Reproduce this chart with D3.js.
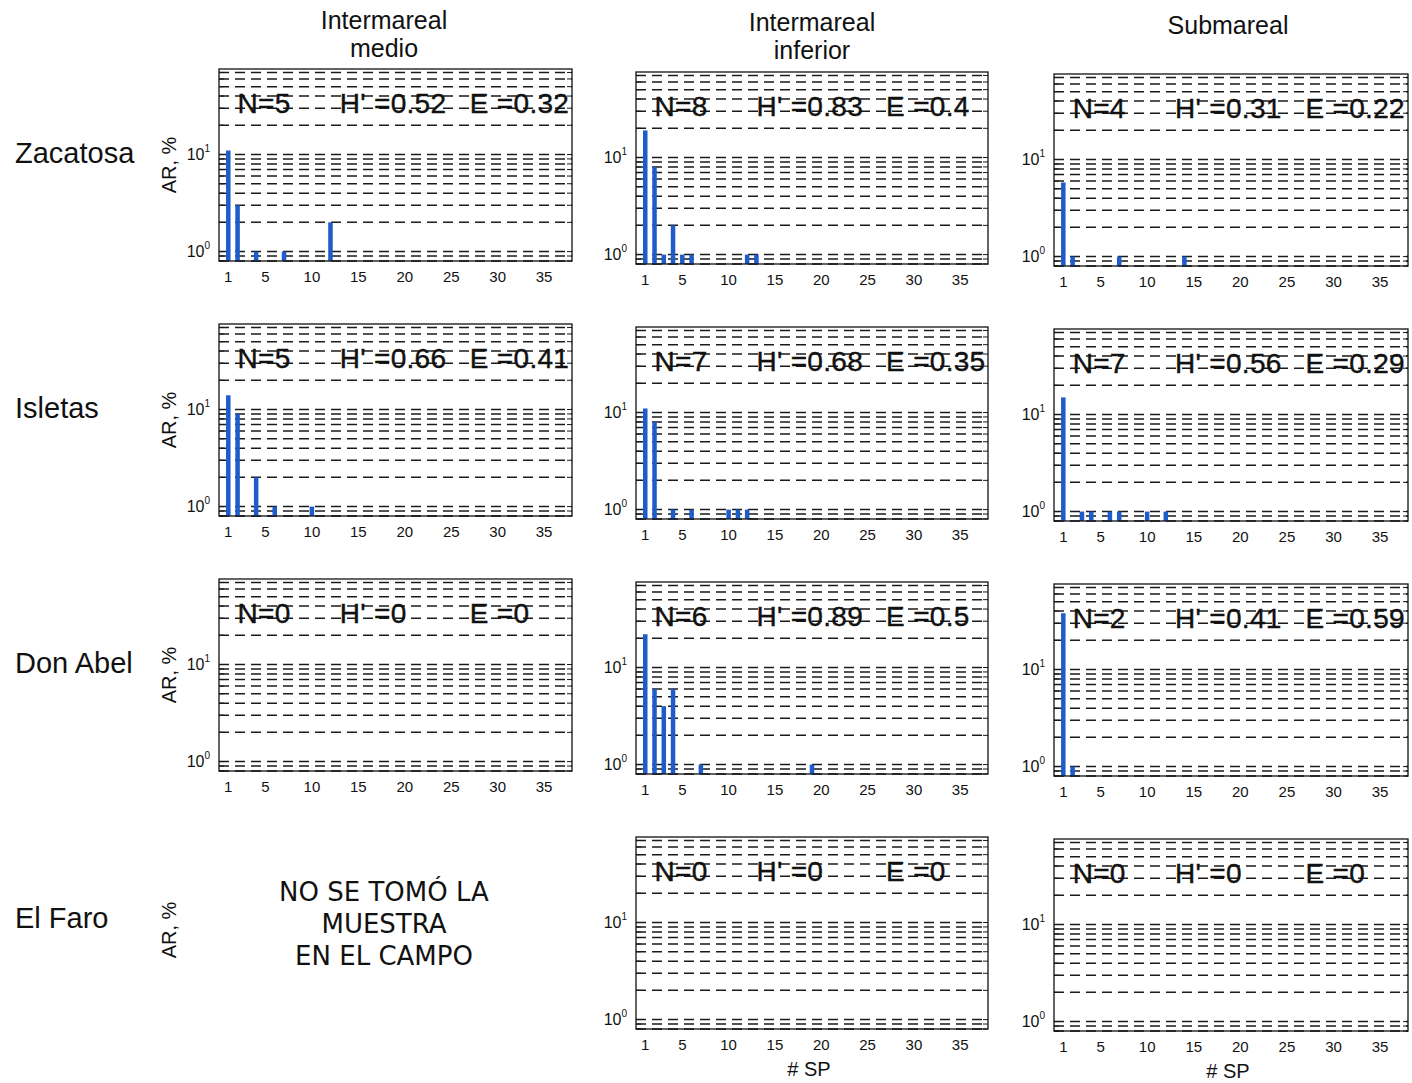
<!DOCTYPE html>
<html>
<head>
<meta charset="utf-8">
<script src="https://cdn.jsdelivr.net/npm/d3@7"></script>
<style>
  body { margin: 0; background: #fff; }
  text { font-family: "Liberation Sans", Arial, Helvetica, sans-serif; fill: #111; }
</style>
</head>
<body>
<svg id="chart" width="1412" height="1083"></svg>
<script>
// Column headings (zonation levels) and row headings (sites)
const zones = [["Intermareal", "medio"], ["Intermareal", "inferior"], ["Submareal"]];
const sites = ["Zacatosa", "Isletas", "Don Abel", "El Faro"];

// Axis ticks
const xTicks = [1, 5, 10, 15, 20, 25, 30, 35];
const yTicks = [1, 10];
const yGrid = [0.8, 0.9, 1, 2, 3, 4, 5, 6, 7, 8, 9, 10, 20, 30, 40, 50, 60, 70];

// Relative abundance per species: [species #, AR %]
const zacatosaMedio     = [[1, 11], [2, 3], [4, 1], [7, 1], [12, 2]];
const zacatosaInferior  = [[1, 19], [2, 8], [3, 1], [4, 2], [5, 1], [6, 1], [12, 1], [13, 1]];
const zacatosaSubmareal = [[1, 5.8], [2, 1], [7, 1], [14, 1]];
const isletasMedio      = [[1, 14], [2, 9], [4, 2], [6, 1], [10, 1]];
const isletasInferior   = [[1, 11], [2, 8], [4, 1], [6, 1], [10, 1], [11, 1], [12, 1]];
const isletasSubmareal  = [[1, 15], [3, 1], [4, 1], [6, 1], [7, 1], [10, 1], [12, 1]];
const donAbelMedio      = [];
const donAbelInferior   = [[1, 22], [2, 6], [3, 4], [4, 6], [7, 1], [19, 1]];
const donAbelSubmareal  = [[1, 38], [2, 1]];
const elFaroInferior    = [];
const elFaroSubmareal   = [];

// Diversity indices per panel (row = site, column = zone); null = not sampled
const statN = [[5, 8, 4], [5, 7, 7], [0, 6, 2], [null, 0, 0]];
const statH = [["0.52", "0.83", "0.31"], ["0.66", "0.68", "0.56"], ["0", "0.89", "0.41"], [null, "0", "0"]];
const statE = [["0.32", "0.4", "0.22"], ["0.41", "0.35", "0.29"], ["0", "0.5", "0.59"], [null, "0", "0"]];

const panelData = [
  [zacatosaMedio, zacatosaInferior, zacatosaSubmareal],
  [isletasMedio, isletasInferior, isletasSubmareal],
  [donAbelMedio, donAbelInferior, donAbelSubmareal],
  [null, elFaroInferior, elFaroSubmareal]
];

// Layout
const colLeft  = [219, 636, 1054];
const colRight = [572, 988, 1408];
const colTopShift = [0, 3, 5];
const rowTop = [69, 324, 579, 834];
const panelH = 192;
const barColor = "#1e5ccc";

const svg = d3.select("#chart");

// Column titles
const titleX = [384, 812, 1228];
zones.forEach((lines, c) => {
  lines.forEach((ln, i) => {
    svg.append("text")
      .attr("text-anchor", "middle")
      .attr("font-size", 25)
      .attr("x", titleX[c])
      .attr("y", (lines.length > 1 ? 29 + colTopShift[c] / 1.5 : 34) + i * 28)
      .text(ln);
  });
});

// Row labels and y-axis titles
sites.forEach((s, r) => {
  const cy = rowTop[r] + panelH / 2 - 12;
  svg.append("text")
    .attr("x", 15).attr("y", cy).attr("dy", "0.35em")
    .attr("font-size", 29)
    .text(s);
  svg.append("text")
    .attr("transform", `translate(176,${rowTop[r] + panelH / 2}) rotate(-90)`)
    .attr("text-anchor", "middle")
    .attr("font-size", 20)
    .text("AR, %");
});

// Panels
panelData.forEach((row, r) => {
  row.forEach((data, c) => {
    if (data === null) return;
    const top = rowTop[r] + colTopShift[c];
    const bottom = top + panelH;
    const x = d3.scaleLinear().domain([0, 38]).range([colLeft[c], colRight[c]]);
    const y = d3.scaleLog().domain([0.8, 76]).range([bottom, top]);
    const g = svg.append("g");

    // dashed log gridlines
    g.selectAll("line.grid").data(yGrid).join("line")
      .attr("class", "grid")
      .attr("x1", colLeft[c]).attr("x2", colRight[c])
      .attr("y1", d => y(d)).attr("y2", d => y(d))
      .attr("stroke", "#1a1a1a").attr("stroke-width", 1.5)
      .attr("stroke-dasharray", "10,6");

    // inward minor ticks on both sides
    g.selectAll("line.tl").data(yGrid).join("line")
      .attr("x1", colLeft[c]).attr("x2", colLeft[c] + 5)
      .attr("y1", d => y(d)).attr("y2", d => y(d))
      .attr("stroke", "#1a1a1a").attr("stroke-width", 1);
    g.selectAll("line.tr").data(yGrid).join("line")
      .attr("x1", colRight[c] - 5).attr("x2", colRight[c])
      .attr("y1", d => y(d)).attr("y2", d => y(d))
      .attr("stroke", "#1a1a1a").attr("stroke-width", 1);

    // bars
    const bw = 4.5;
    g.selectAll("rect.bar").data(data).join("rect")
      .attr("class", "bar")
      .attr("x", d => x(d[0]) - bw / 2)
      .attr("width", bw)
      .attr("y", d => y(d[1]))
      .attr("height", d => y(0.8) - y(d[1]))
      .attr("fill", barColor);

    // frame
    g.append("rect")
      .attr("x", colLeft[c]).attr("y", top)
      .attr("width", colRight[c] - colLeft[c]).attr("height", panelH)
      .attr("fill", "none").attr("stroke", "#111").attr("stroke-width", 1.3);

    // x tick labels
    g.selectAll("text.xt").data(xTicks).join("text")
      .attr("x", d => x(d)).attr("y", bottom + 21)
      .attr("text-anchor", "middle").attr("font-size", 15)
      .text(d => d);

    // y tick labels as powers of ten
    yTicks.forEach(v => {
      const t = g.append("text")
        .attr("x", colLeft[c] - 9).attr("y", y(v) + 5)
        .attr("text-anchor", "end").attr("font-size", 16);
      t.append("tspan").text("10");
      t.append("tspan").attr("font-size", 10).attr("dy", -8).text(Math.round(Math.log10(v)));
    });

    // diversity indices
    const sy = y(34);
    const st = [
      [2, `N=${statN[r][c]}`],
      [13, `H' =${statH[r][c]}`],
      [27, `E =${statE[r][c]}`]
    ];
    g.selectAll("text.st").data(st).join("text")
      .attr("x", d => x(d[0])).attr("y", sy).attr("dy", "0.36em")
      .attr("font-size", 28).attr("letter-spacing", 0.3)
      .attr("stroke", "#111").attr("stroke-width", 0.4)
      .text(d => d[1]);

    // x-axis title below the last row
    if (r === 3) {
      g.append("text")
        .attr("x", (colLeft[c] + colRight[c]) / 2 - 3).attr("y", bottom + 47)
        .attr("text-anchor", "middle").attr("font-size", 20)
        .text("# SP");
    }
  });
});

// Note for the missing sample
const note = ["NO SE TOMÓ LA", "MUESTRA", "EN EL CAMPO"];
svg.append("g").selectAll("text").data(note).join("text")
  .attr("x", 384).attr("y", (d, i) => 901 + i * 32)
  .attr("text-anchor", "middle")
  .style("font-family", "'DejaVu Sans', Verdana, sans-serif")
  .attr("font-size", 26)
  .text(d => d);
</script>
</body>
</html>
